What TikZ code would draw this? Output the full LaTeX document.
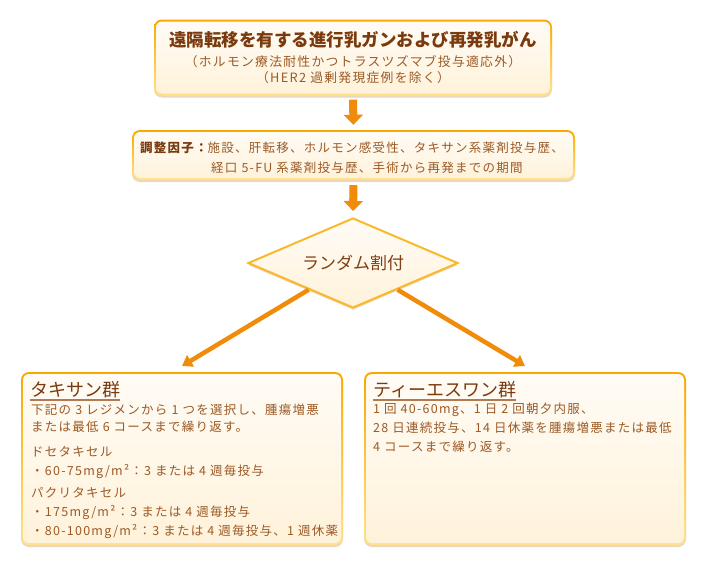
\documentclass[tikz,border=0pt]{standalone}
\usepackage{fontspec}
\setmainfont{Noto Sans CJK JP}
\newfontfamily\jpT{Noto Sans CJK JP}
\newfontfamily\jpB{Noto Sans CJK JP}[LetterSpace=10]
\usetikzlibrary{shapes.geometric,shadows,arrows.meta}
\definecolor{bordTop}{HTML}{F8A800}
\definecolor{bordBot}{HTML}{FFE28C}
\definecolor{fillTop}{HTML}{FFFCF6}
\definecolor{fillBot}{HTML}{FFF2DA}
\definecolor{arrowc}{HTML}{F08C0A}
\definecolor{txt}{HTML}{9C5A26}
\definecolor{ttl}{HTML}{7A3A0E}
\definecolor{shadowc}{HTML}{DDBB92}
\tikzset{
  cbox/.style={rounded corners=8pt, inner sep=0pt, top color=bordTop, bottom color=bordBot,
    drop shadow={shadow xshift=0pt, shadow yshift=-2pt, fill=shadowc, opacity=0.6},
    path picture={\shade[top color=fillTop, bottom color=fillBot, rounded corners=6pt]
      ([shift={(2pt,2pt)}]path picture bounding box.south west) rectangle
      ([shift={(-2pt,-2pt)}]path picture bounding box.north east);}},
  dia/.style={diamond, inner sep=0pt, draw=bordTop!70!bordBot, line width=2pt,
    top color=fillTop, bottom color=fillBot, minimum width=210pt, minimum height=90pt,
    drop shadow={shadow xshift=0pt, shadow yshift=-2pt, fill=shadowc, opacity=0.6}},
  blockarrow/.style={draw=arrowc, line width=8pt, -{Triangle[width=19pt,length=10pt]}},
  thinarrow/.style={draw=arrowc, line width=4.5pt, -{Triangle[width=13pt,length=10pt]}},
  ttltext/.style={inner sep=0pt, text=ttl, font=\jpT\fontsize{17.5pt}{20pt}\selectfont\bfseries},
  grptext/.style={inner sep=0pt, anchor=west, text=ttl, font=\jpT\fontsize{18pt}{20pt}\selectfont},
  bodytext/.style={inner sep=0pt, anchor=west, text=txt, font=\jpB\fontsize{12.5pt}{15pt}\selectfont},
  subtext/.style={inner sep=0pt, text=txt, font=\jpB\fontsize{12.8pt}{15pt}\selectfont},
  uline/.style={draw=txt!80, line width=1.6pt}
}
\begin{document}
\begin{tikzpicture}[x=1pt,y=-1pt]
\useasboundingbox (0,0) rectangle (706,565);
% boxes
\node[cbox, minimum width=398pt, minimum height=76pt] (b1) at (353,57.5) {};
\node[cbox, minimum width=443pt, minimum height=50pt] (b2) at (353.5,155) {};
\node[dia] (d) at (353,263) {};
\node[cbox, minimum width=322pt, minimum height=173pt] (b3) at (182,458.5) {};
\node[cbox, minimum width=322pt, minimum height=173pt] (b4) at (525,458.5) {};
% box 1 text
\node[ttltext] (t1a) at (353,40) {遠隔転移を有する進行乳ガンおよび再発乳がん};
\node[subtext] (t1b) at (353,62) {（ホルモン療法耐性かつトラスツズマブ投与適応外）};
\node[subtext] (t1c) at (353,78) {（HER2 過剰発現症例を除く）};
% box 2 text
\node[bodytext] (t2a) at (140,148) {{\color{ttl}\bfseries 調整因子：}施設、肝転移、ホルモン感受性、タキサン系薬剤投与歴、};
\node[bodytext] (t2b) at (211,168) {経口 5-FU 系薬剤投与歴、手術から再発までの期間};
% diamond text
\node[inner sep=0pt, text=ttl!85!txt, font=\jpT\fontsize{17pt}{20pt}\selectfont] (td) at (d.center) {ランダム割付};
% box 3 text
\node[grptext] (t3) at (30,390) {タキサン群};
\draw[uline] ([yshift=-3pt]t3.base west) -- ([yshift=-3pt]t3.base east);
\node[bodytext] (t3a) at (31,410) {下記の 3 レジメンから 1 つを選択し、腫瘍増悪};
\node[bodytext] (t3b) at (31,427) {または最低 6 コースまで繰り返す。};
\node[bodytext] (t3c) at (31,452) {ドセタキセル};
\node[bodytext] (t3d) at (31,471) {・60-75mg/m²：3 または 4 週毎投与};
\node[bodytext] (t3e) at (31,493) {パクリタキセル};
\node[bodytext] (t3f) at (31,512) {・175mg/m²：3 または 4 週毎投与};
\node[bodytext] (t3g) at (31,531) {・80-100mg/m²：3 または 4 週毎投与、1 週休薬};
% box 4 text
\node[grptext] (t4) at (373,390) {ティーエスワン群};
\draw[uline] ([yshift=-3pt]t4.base west) -- ([yshift=-3pt]t4.base east);
\node[bodytext] (t4a) at (373,410) {1 回 40-60mg、1 日 2 回朝夕内服、};
\node[bodytext] (t4b) at (373,428) {28 日連続投与、14 日休薬を腫瘍増悪または最低};
\node[bodytext] (t4c) at (373,447) {4 コースまで繰り返す。};
% arrows
\draw[blockarrow, shorten <=4pt, shorten >=5pt] (b1.south) -- (b2.north);
\draw[blockarrow, shorten <=5pt, shorten >=6pt] (b2.south) -- (d.north);
\coordinate (tipL) at (182,366);
\coordinate (tipR) at (525,366);
\draw[thinarrow] (d) -- (tipL);
\draw[thinarrow] (d) -- (tipR);
\end{tikzpicture}
\end{document}
